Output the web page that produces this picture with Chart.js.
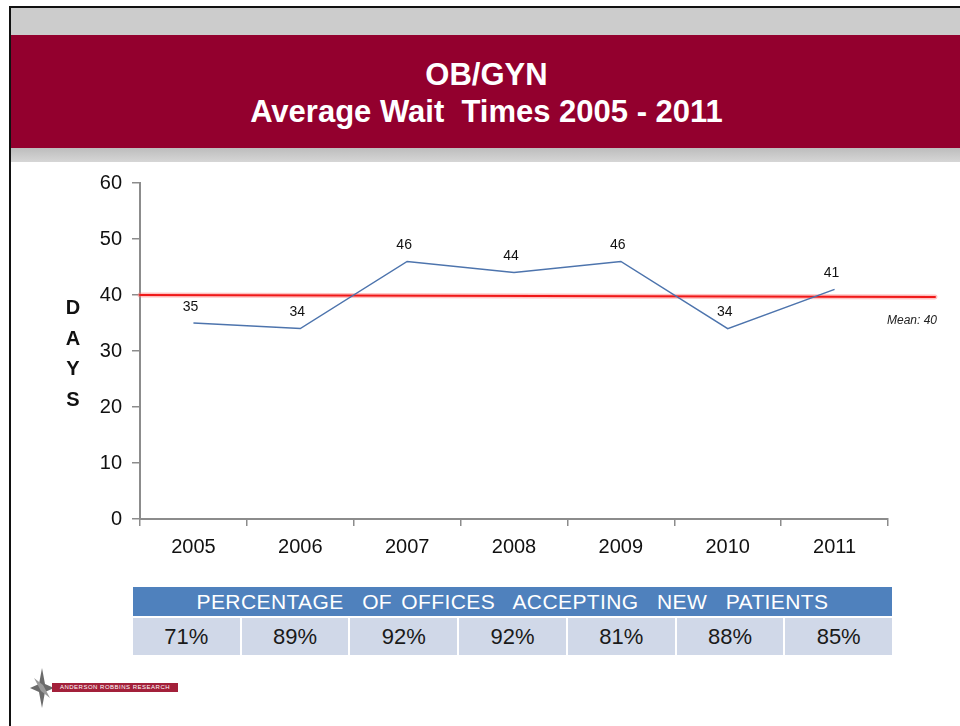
<!DOCTYPE html>
<html>
<head>
<meta charset="utf-8">
<script src="https://cdn.jsdelivr.net/npm/chart.js@4.4.1/dist/chart.umd.min.js"></script>
<style>
    body { margin: 0; background: #fff; font-family: Arial, "Liberation Sans", sans-serif; }
    #page { position: relative; width: 960px; height: 726px; overflow: hidden; background: #fff; }
    #frame { position: absolute; left: 9px; top: 6px; width: 951px; height: 720px; border-left: 2px solid #111; border-top: 2px solid #111; }
    #bandTop { position: absolute; left: 0; top: 0; width: 100%; height: 27px; background: #cccccc; }
    #banner { position: absolute; left: 0; top: 27px; width: 100%; height: 113px; background: #93002e; color: #fff; text-align: center; font-weight: bold; font-size: 31px; line-height: 36px; }
    #banner .l1 { position: absolute; left: 0; right: 0; top: 22px; }
    #banner .l2 { position: absolute; left: 0; right: 0; top: 59px; }
    #bandBottom { position: absolute; left: 0; top: 140px; width: 100%; height: 14px; background: linear-gradient(#bdbdbd, #d6d6d6); }
    #chartBox { position: absolute; left: 0; top: 160px; width: 960px; height: 420px; }
    #days { position: absolute; left: 62px; top: 292px; width: 22px; text-align: center; font-weight: bold; font-size: 20px; line-height: 30.5px; color: #111; }
    #table { position: absolute; left: 133px; top: 587px; width: 759px; }
    #table .head { background: #4f81bd; color: #fff; height: 29px; line-height: 29px; text-align: center; font-size: 21px; letter-spacing: 0.4px; word-spacing: 3px; }
    #table .row { display: flex; margin-top: 2px; }
    #table .cell { flex: 1; background: #d0d8e8; height: 37px; line-height: 37px; text-align: center; font-size: 22px; color: #1a1a1a; margin-left: 2px; }
    #table .cell:first-child { margin-left: 0; }
    #logo { position: absolute; left: 30px; top: 668px; width: 160px; height: 40px; }
    #logo .bar { position: absolute; left: 22px; top: 15px; width: 126px; height: 9px; background: #a3203a; color: #fff; font-size: 6px; line-height: 9px; text-align: center; letter-spacing: 0.5px; }
</style>
</head>
<body>
<div id="page">
    <div id="frame">
        <div id="bandTop"></div>
        <div id="banner">
            <div class="l1">OB/GYN</div>
            <div class="l2">Average Wait&nbsp; Times 2005 - 2011</div>
        </div>
        <div id="bandBottom"></div>
    </div>
    <div id="chartBox"><canvas id="chartWait" width="960" height="420"></canvas></div>
    <div id="days">D<br>A<br>Y<br>S</div>
    <div id="table">
        <div class="head">PERCENTAGE&nbsp; OF OFFICES&nbsp; ACCEPTING&nbsp; NEW&nbsp; PATIENTS</div>
        <div class="row" id="pctRow"></div>
    </div>
    <div id="logo">
        <svg width="24" height="40" viewBox="0 0 24 40" style="position:absolute;left:0;top:0">
            <polygon points="12,0 15,16 24,20 15,24 12,40 9,24 0,20 9,16" fill="#6b6b6b"/>
            <polygon points="4,10 13,17 20,30 11,23" fill="#9a9a9a"/>
        </svg>
        <div class="bar">ANDERSON ROBBINS RESEARCH</div>
    </div>
</div>

<script>
// data
var years = ['2005', '2006', '2007', '2008', '2009', '2010', '2011'];
var waitDays = [35, 34, 46, 44, 46, 34, 41];
var meanDays = 40;
var yMin = 0;
var yMax = 60;
var yStep = 10;
var acceptingPct = ['71%', '89%', '92%', '92%', '81%', '88%', '85%'];

// table row under the chart
var row = document.getElementById('pctRow');
for (var i = 0; i < acceptingPct.length; i++) {
    var cell = document.createElement('div');
    cell.className = 'cell';
    cell.textContent = acceptingPct[i];
    row.appendChild(cell);
}

// mean line + value labels
var overlayPlugin = {
    id: 'overlay',
    beforeDatasetsDraw: function (chart) {
        var ctx = chart.ctx;
        var area = chart.chartArea;
        var yPix = chart.scales.y.getPixelForValue(meanDays);
        ctx.save();
        ctx.lineCap = 'round';
        ctx.strokeStyle = 'rgba(255, 120, 120, 0.45)';
        ctx.lineWidth = 5;
        ctx.beginPath();
        ctx.moveTo(area.left, yPix);
        ctx.lineTo(area.right + 47, yPix + 2);
        ctx.stroke();
        ctx.strokeStyle = '#f01818';
        ctx.lineWidth = 2;
        ctx.beginPath();
        ctx.moveTo(area.left, yPix);
        ctx.lineTo(area.right + 47, yPix + 2);
        ctx.stroke();

        ctx.fillStyle = '#222';
        ctx.font = 'italic 12px Arial, "Liberation Sans", sans-serif';
        ctx.textAlign = 'right';
        ctx.textBaseline = 'middle';
        ctx.fillText('Mean: ' + meanDays, area.right + 49, yPix + 26);
        ctx.restore();
    },
    afterDatasetsDraw: function (chart) {
        var ctx = chart.ctx;
        var meta = chart.getDatasetMeta(0);
        ctx.save();
        ctx.fillStyle = '#111';
        ctx.font = '14px Arial, "Liberation Sans", sans-serif';
        ctx.textAlign = 'center';
        ctx.textBaseline = 'middle';
        meta.data.forEach(function (pt, i) {
            ctx.fillText(waitDays[i], pt.x - 3, pt.y - 16);
        });
        ctx.restore();
    }
};

var ctx = document.getElementById('chartWait').getContext('2d');
var myChart = new Chart(ctx, {
    type: 'line',
    data: {
        labels: years,
        datasets: [
            {
                label: 'Days',
                data: waitDays,
                borderColor: '#4d74ad',
                borderWidth: 1.5,
                pointRadius: 0,
                tension: 0,
                fill: false
            }
        ]
    },
    plugins: [overlayPlugin],
    options: {
        responsive: false,
        animation: false,
        layout: {
            padding: { left: 0, right: 72, top: 23, bottom: 0 }
        },
        scales: {
            x: {
                offset: true,
                afterFit: function (scale) { scale.height = 61; },
                grid: {
                    offset: true,
                    drawOnChartArea: false,
                    tickLength: 7,
                    color: '#8c8c8c',
                    lineWidth: 1.5
                },
                border: { color: '#8c8c8c', width: 2 },
                ticks: {
                    padding: 9,
                    color: '#111',
                    font: { family: 'Arial, "Liberation Sans", sans-serif', size: 20 }
                }
            },
            y: {
                min: yMin,
                max: yMax,
                afterFit: function (scale) { scale.width = 140; },
                grid: {
                    drawOnChartArea: false,
                    tickLength: 8,
                    color: '#8c8c8c',
                    lineWidth: 1.5
                },
                border: { color: '#8c8c8c', width: 2 },
                ticks: {
                    stepSize: yStep,
                    padding: 10,
                    color: '#111',
                    font: { family: 'Arial, "Liberation Sans", sans-serif', size: 20 }
                }
            }
        },
        plugins: {
            legend: { display: false },
            tooltip: { enabled: false },
            title: { display: false }
        }
    }
});
</script>
</body>
</html>
